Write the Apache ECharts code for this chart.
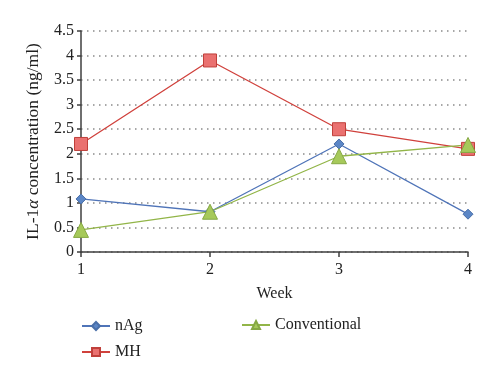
<!DOCTYPE html>
<html>
<head>
<meta charset="utf-8">
<script src="https://cdn.jsdelivr.net/npm/echarts@6/dist/echarts.min.js"></script>
<style>html,body{margin:0;padding:0;background:#fff;}#c{width:500px;height:380px;}</style>
</head>
<body>
<div id="c"></div>
<script>
const weeks = ['1', '2', '3', '4'];
const nAg = [1.08, 0.82, 2.2, 0.77];
const MH = [2.2, 3.9, 2.5, 2.1];
const conventional = [0.45, 0.82, 1.95, 2.18];
const yTicks = { min: 0, max: 4.5, interval: 0.5 };

const FONT = 'Liberation Serif';
const axisColor = '#3f3f3f';
const chart = echarts.init(document.getElementById('c'), null, { renderer: 'canvas' });

function mkSeries(name, data, symbol, size, lineColor, fill, border) {
  return {
    name, type: 'line', data, symbol, symbolSize: size,
    lineStyle: { color: lineColor, width: 1.3 },
    itemStyle: { color: fill, borderColor: border, borderWidth: 1 },
    emphasis: { disabled: true },
    animation: false
  };
}

chart.setOption({
  animation: false,
  grid: { left: 81, right: 32, top: 31, bottom: 128, containLabel: false },
  textStyle: { fontFamily: FONT },
  xAxis: {
    type: 'category', data: weeks, boundaryGap: false,
    name: 'Week', nameLocation: 'middle', nameGap: 34,
    nameTextStyle: { fontFamily: FONT, fontSize: 16, color: '#222' },
    axisLine: { lineStyle: { color: axisColor, width: 1.5 } },
    axisTick: { show: true, alignWithLabel: true, length: 5, lineStyle: { color: axisColor, width: 1.5 } },
    axisLabel: { fontFamily: FONT, fontSize: 16, color: '#222', margin: 10 },
    splitLine: { show: false }
  },
  yAxis: {
    type: 'value', min: yTicks.min, max: yTicks.max, interval: yTicks.interval,
    name: '{n|IL-1}{a|α}{n| concentration (ng/ml)}', nameLocation: 'middle', nameGap: 39, nameRotate: 90,
    nameTextStyle: {
      rich: {
        n: { fontFamily: FONT, fontSize: 17.5, color: '#222' },
        a: { fontFamily: FONT, fontSize: 17.5, fontStyle: 'italic', color: '#222' }
      }
    },
    axisLine: { show: true, lineStyle: { color: axisColor, width: 1.5 } },
    axisTick: { show: true, length: 4, lineStyle: { color: axisColor, width: 1.5 } },
    axisLabel: { fontFamily: FONT, fontSize: 16, color: '#222', margin: 7 },
    splitLine: { show: true, lineStyle: { color: '#8a8a8a', width: 1.5, type: [1.5, 4.5] } }
  },
  legend: [
    {
      data: ['nAg', 'MH'], orient: 'vertical', left: 76, top: 313, itemGap: 10,
      itemWidth: 28, itemHeight: 10,
      textStyle: { fontFamily: FONT, fontSize: 16, color: '#222' }
    },
    {
      data: ['Conventional'], orient: 'vertical', left: 236, top: 312,
      itemWidth: 28, itemHeight: 10,
      textStyle: { fontFamily: FONT, fontSize: 16, color: '#222' }
    }
  ],
  series: [
    mkSeries('nAg', nAg, 'diamond', 10, '#4f74b8', '#5b86c6', '#4a6fa8'),
    mkSeries('MH', MH, 'rect', 13, '#d0413c', '#ea7170', '#c0403b'),
    mkSeries('Conventional', conventional, 'triangle', 15, '#92b548', '#a6c95a', '#86a844')
  ]
});
</script>
</body>
</html>
